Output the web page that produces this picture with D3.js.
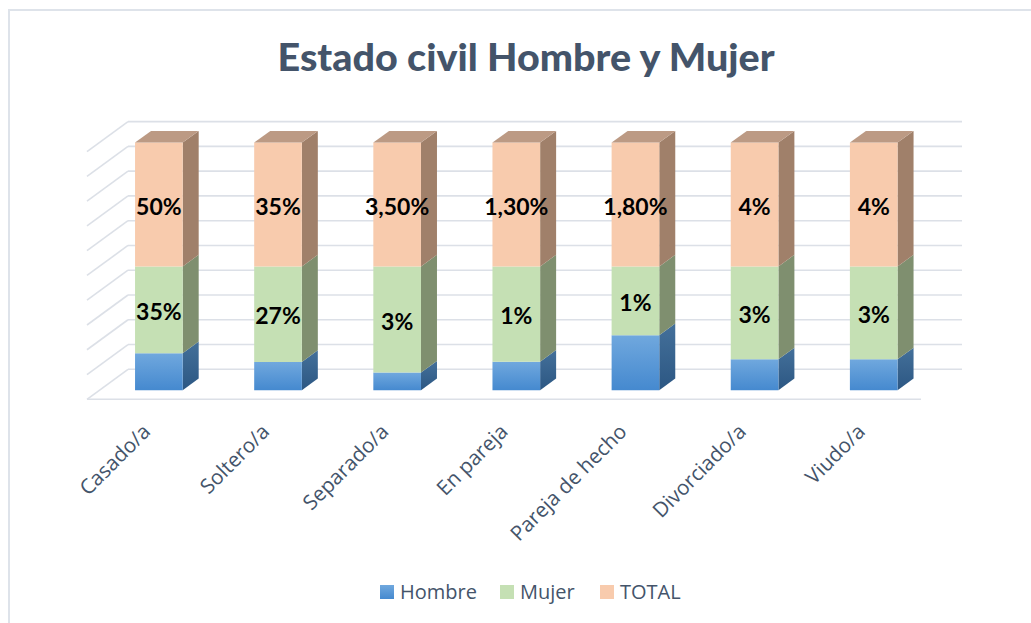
<!DOCTYPE html>
<html><head><meta charset="utf-8">
<script src="https://cdn.jsdelivr.net/npm/d3@7"></script>
<style>body{margin:0;background:#fff}svg{display:block}</style>
</head><body><svg id="c" width="1031" height="623"></svg>
<script>
// ---- data ----
const categories = ["Casado/a","Soltero/a","Separado/a","En pareja","Pareja de hecho","Divorciado/a","Viudo/a"];
const hombre = [15, 8, 0.5, 0.3, 0.8, 1, 1];
const mujer  = [35, 27, 3, 1, 1, 3, 3];
const total  = [50, 35, 3.5, 1.3, 1.8, 4, 4];
const mujerLabels = ["35%","27%","3%","1%","1%","3%","3%"];
const totalLabels = ["50%","35%","3,50%","1,30%","1,80%","4%","4%"];
const seriesNames = ["Hombre","Mujer","TOTAL"];
const yTicks = [0,0.1,0.2,0.3,0.4,0.5,0.6,0.7,0.8,0.9,1];

const svg = d3.select("#c");
const defs = svg.append("defs");
function grad(id, c1, c2){
  const g = defs.append("linearGradient").attr("id",id).attr("x1",0).attr("y1",0).attr("x2",0).attr("y2",1);
  g.append("stop").attr("offset","0%").attr("stop-color",c1);
  g.append("stop").attr("offset","100%").attr("stop-color",c2);
}
grad("hFront","#70A8DE","#4589CF");
grad("hSide","#44709A","#2C5783");

const frontFill = {Hombre:"url(#hFront)", Mujer:"#C5E0B4", TOTAL:"#F8CBAD"};
const sideFill  = {Hombre:"url(#hSide)", Mujer:"#7F8F6F", TOTAL:"#A0806A"};
const topFill = "#BC9A84";
const legendFill = {Hombre:"url(#hFront)", Mujer:"#C5E0B4", TOTAL:"#F8CBAD"};

// border
svg.append("path").attr("d","M9,623 V10 H1031").attr("fill","none")
  .attr("stroke","#DEE3EA").attr("stroke-width",2);

// title
svg.append("text").attr("x",526).attr("y",71).attr("text-anchor","middle")
  .attr("font-family","Lato, 'Open Sans', sans-serif").attr("font-weight","900")
  .attr("font-size",38).attr("fill","#44546A")
  .attr("textLength",497).attr("lengthAdjust","spacingAndGlyphs")
  .text("Estado civil Hombre y Mujer");

// scales
const x = d3.scaleBand().domain(categories).range([87,921]).paddingInner(0.6).paddingOuter(0.3);
const y = d3.scaleLinear().domain([0,1]).range([399.3,151.6]);
const DX = 41, DY = 30;
const proj = (xs, v, z) => [xs + z*DX, y(v) - z*DY];
const poly = pts => "M" + pts.map(p=>p.join(",")).join("L") + "Z";

// gridlines (back wall + side wall)
const grid = svg.append("g").attr("stroke","#DCE0E7").attr("stroke-width",1.6).attr("fill","none");
const [xl, xr] = x.range();
yTicks.forEach(t=>{
  const a = proj(xl,t,1), b = proj(xr,t,1), c = proj(xl,t,0);
  grid.append("line").attr("x1",a[0]).attr("y1",a[1]).attr("x2",b[0]).attr("y2",b[1]);
  grid.append("line").attr("x1",c[0]).attr("y1",c[1]).attr("x2",a[0]).attr("y2",a[1]);
});
{
  const a = proj(xl,0,0), b = proj(xr,0,0);
  grid.append("line").attr("x1",a[0]).attr("y1",a[1]).attr("x2",b[0]).attr("y2",b[1]);
}

// stack
const rows = categories.map((c,i)=>({cat:c, Hombre:hombre[i], Mujer:mujer[i], TOTAL:total[i]}));
const stacked = d3.stack().keys(seriesNames).offset(d3.stackOffsetExpand)(rows);

const z0 = 0.3, z1 = 0.69;
const bw = x.bandwidth();
const bars = svg.append("g");
categories.forEach((cat,i)=>{
  const x0 = x(cat), x1 = x0 + bw;
  const g = bars.append("g");
  stacked.forEach(s=>{
    const [v0,v1] = s[i];
    g.append("path").attr("d", poly([proj(x1,v0,z0),proj(x1,v0,z1),proj(x1,v1,z1),proj(x1,v1,z0)]))
      .attr("fill", sideFill[s.key]);
    g.append("path").attr("d", poly([proj(x0,v0,z0),proj(x1,v0,z0),proj(x1,v1,z0),proj(x0,v1,z0)]))
      .attr("fill", frontFill[s.key]);
  });
  g.append("path").attr("d", poly([proj(x0,1,z0),proj(x1,1,z0),proj(x1,1,z1),proj(x0,1,z1)]))
    .attr("fill", topFill);
});

// data labels
const labelSets = {Mujer: mujerLabels, TOTAL: totalLabels};
const lab = svg.append("g").attr("font-family","Lato, 'Open Sans', sans-serif").attr("font-weight","bold")
  .attr("font-size",23).attr("fill","#000").attr("text-anchor","middle");
stacked.forEach(s=>{
  if(!labelSets[s.key]) return;
  categories.forEach((cat,i)=>{
    const [v0,v1] = s[i];
    const p = proj(x(cat)+bw/2, (v0+v1)/2, z0);
    lab.append("text").attr("x",p[0]).attr("y",p[1]+10).text(labelSets[s.key][i]);
  });
});

// category axis labels
const ax = svg.append("g").attr("font-family","'Open Sans', sans-serif").attr("font-size",20.6)
  .attr("fill","#44546A").attr("text-anchor","end");
categories.forEach(cat=>{
  const cx = x(cat) + bw/2 + 5;
  ax.append("text").attr("transform",`translate(${cx},433) rotate(-45)`).text(cat);
});

// legend
const legX = {Hombre:380, Mujer:500, TOTAL:600};
const leg = svg.append("g").attr("font-family","'Open Sans', sans-serif").attr("font-size",20).attr("fill","#44546A");
seriesNames.forEach(n=>{
  leg.append("rect").attr("x",legX[n]).attr("y",585).attr("width",14).attr("height",14).attr("fill",legendFill[n]);
  leg.append("text").attr("x",legX[n]+20).attr("y",599).text(n);
});
</script></body></html>
